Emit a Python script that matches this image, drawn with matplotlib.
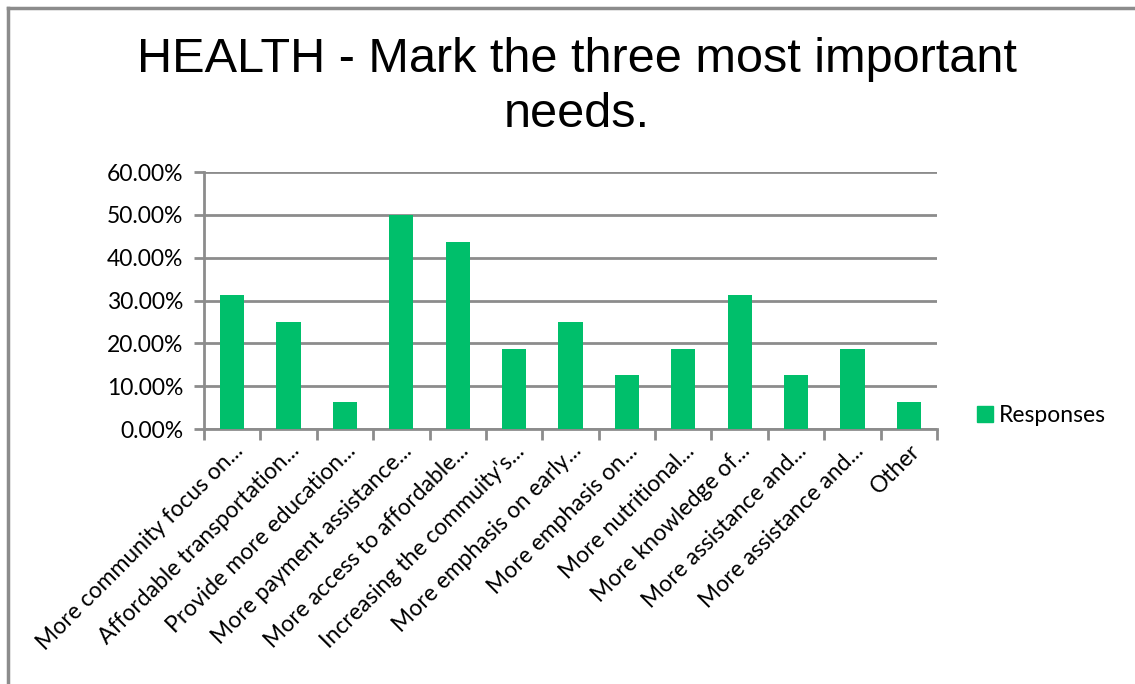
import matplotlib.pyplot as plt
import numpy as np
from matplotlib.lines import Line2D

categories = ['More community focus on...', 'Affordable transportation...',
              'Provide more education...', 'More payment assistance...',
              'More access to affordable...', "Increasing the commuity's...",
              'More emphasis on early...', 'More emphasis on...',
              'More nutritional...', 'More knowledge of...',
              'More assistance and...', 'More assistance and...', 'Other']
responses = [31.25, 25.0, 6.25, 50.0, 43.75, 18.75, 25.0, 12.5, 18.75,
             31.25, 12.5, 18.75, 6.25]
yticks = [0, 10, 20, 30, 40, 50, 60]

green = '#00BF6B'
grey = '#8C8C8C'

fig = plt.figure(figsize=(11.35, 6.84), dpi=100)
ax = fig.add_axes([0.1797, 0.3728, 0.6459, 0.3757])

x = np.arange(len(categories))
ax.bar(x, responses, width=0.43, color=green, zorder=3, label='Responses')

ax.set_xlim(-0.5, len(categories) - 0.5)
ax.set_ylim(0, 60)
ax.set_yticks(yticks)
ax.set_yticklabels(['%.2f%%' % v for v in yticks], fontsize=16.5, family='Lato')
ax.yaxis.grid(True, color=grey, linewidth=2, zorder=0)

# category boundary ticks, labels at centers
ax.set_xticks(np.arange(-0.5, len(categories)), minor=False)
ax.set_xticklabels([])
ax.set_xticks(x, minor=True)
ax.set_xticklabels(categories, minor=True, rotation=45, ha='right',
                   rotation_mode='anchor', fontsize=16.5, family='Lato')
ax.tick_params(axis='x', which='minor', length=0, pad=8)
ax.tick_params(axis='x', which='major', length=8, width=2, color=grey)
ax.tick_params(axis='y', length=7, width=2, color=grey, pad=8)

for s in ['top', 'right']:
    ax.spines[s].set_visible(False)
for s in ['left', 'bottom']:
    ax.spines[s].set_color(grey)
    ax.spines[s].set_linewidth(2)

fig.text(0.508, 0.913, 'HEALTH - Mark the three most important', ha='center',
         va='center', fontsize=35, family='Liberation Sans')
fig.text(0.508, 0.833, 'needs.', ha='center', va='center', fontsize=35,
         family='Liberation Sans')

handle = Line2D([], [], marker='s', linestyle='none', markersize=11,
                markerfacecolor=green, markeredgecolor=green)
fig.legend([handle], ['Responses'], loc='center left',
           bbox_to_anchor=(0.862, 0.393), frameon=False,
           prop={'family': 'Lato', 'size': 16.5}, handletextpad=0.3,
           handlelength=0.6, borderpad=0, borderaxespad=0)

# outer chart frame (top and left edges visible)
fig.add_artist(Line2D([0.007, 1.0], [0.988, 0.988], color=grey, linewidth=2.5,
                      transform=fig.transFigure))
fig.add_artist(Line2D([0.007, 0.007], [0.0, 0.988], color=grey, linewidth=2.5,
                      transform=fig.transFigure))

fig.savefig('out.png', dpi=100)
